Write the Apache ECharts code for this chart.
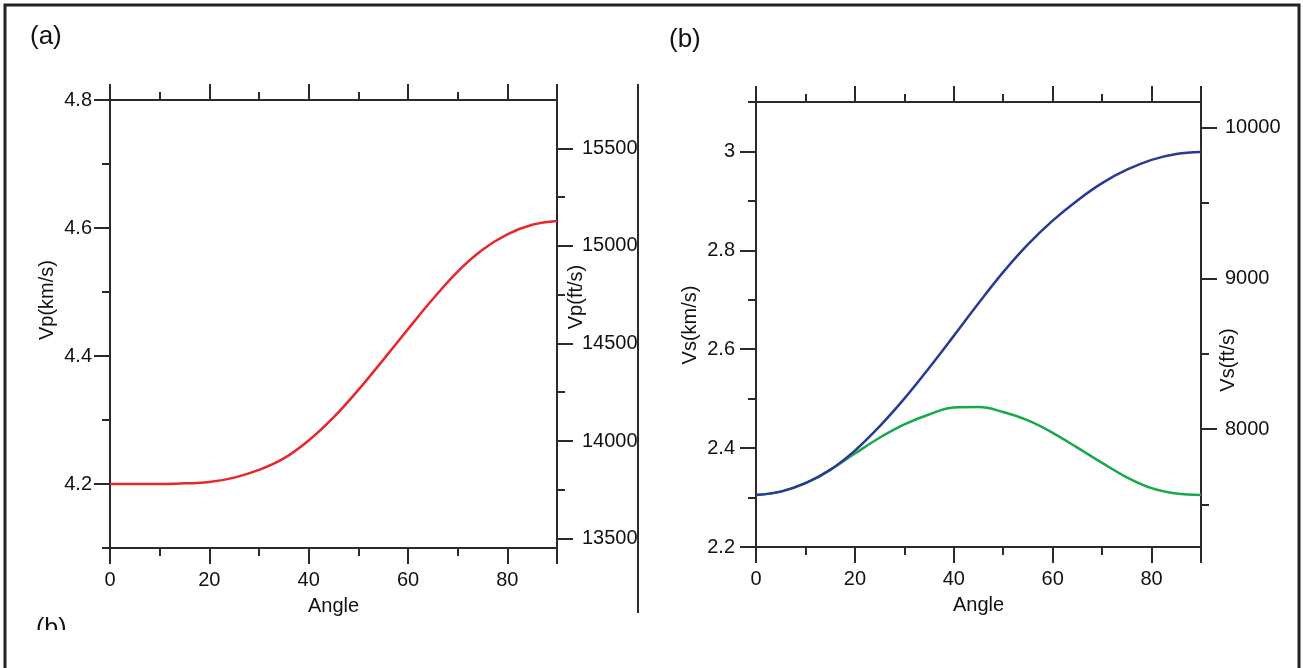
<!DOCTYPE html>
<html>
<head>
<meta charset="utf-8">
<script src="https://cdn.jsdelivr.net/npm/echarts@6/dist/echarts.min.js"></script>
<style>
html, body { margin: 0; padding: 0; background: #fff; }
#chart { width: 1303px; height: 668px; }
</style>
</head>
<body>
<div id="chart"></div>
<script>
// angle (deg) and velocities
const angles = [0, 5, 10, 15, 20, 25, 30, 35, 40, 45, 50, 55, 60, 65, 70, 75, 80, 85, 90];
const vpKm = [4.200, 4.200, 4.200, 4.201, 4.203, 4.210, 4.222, 4.240, 4.268, 4.304, 4.347, 4.394, 4.442, 4.489, 4.532, 4.566, 4.590, 4.605, 4.611];
const vsBlue = [2.305, 2.312, 2.329, 2.356, 2.395, 2.444, 2.500, 2.562, 2.627, 2.693, 2.756, 2.812, 2.860, 2.901, 2.936, 2.963, 2.983, 2.995, 2.999];
const vsGreen = [2.305, 2.312, 2.329, 2.356, 2.389, 2.421, 2.448, 2.468, 2.482, 2.483, 2.473, 2.456, 2.431, 2.401, 2.370, 2.341, 2.319, 2.308, 2.305];

// tick positions
const xMajor = [0, 20, 40, 60, 80, 90];
const xLabels = [0, 20, 40, 60, 80];
const xMinor = [10, 30, 50, 70];
const vpKmLabels = [4.2, 4.4, 4.6, 4.8];
const vpKmMinor = [4.1, 4.3, 4.5, 4.7];
const vpFtLabels = [13500, 14000, 14500, 15000, 15500];
const vpFtMinor = [13750, 14250, 14750, 15250];
const vsKmLabels = [2.2, 2.4, 2.6, 2.8, 3.0];
const vsKmMinor = [2.3, 2.5, 2.7, 2.9, 3.1];
const vsFtLabels = [8000, 9000, 10000];
const vsFtMinor = [7500, 8500, 9500];

const FT_PER_KM = 3280.84;
const INK = '#2a2a2a';
const FONT = 'Liberation Sans, Arial, sans-serif';
const FS = 20;

const chart = echarts.init(document.getElementById('chart'));

// one axis = line + ticks (+ optional labels)
function ax(gridIndex, position, min, max, ticks, len, labels, margin) {
    return {
        type: 'value', gridIndex, position, min, max,
        axisLine: { show: true, onZero: false, lineStyle: { color: INK, width: 2 } },
        axisTick: { show: true, inside: false, length: len, customValues: ticks,
            lineStyle: { color: INK, width: 2 } },
        axisLabel: labels ? {
            show: true, customValues: labels, margin: margin,
            color: '#111', fontSize: FS, fontFamily: FONT,
            formatter: v => String(v)
        } : { show: false },
        splitLine: { show: false }
    };
}

function xAxes(g) {
    const bottom = ax(g, 'bottom', 0, 90, xMajor, 16, xLabels, 22);
    bottom.name = 'Angle';
    bottom.nameLocation = 'middle';
    bottom.nameGap = 48;
    bottom.nameTextStyle = { color: '#111', fontSize: FS, fontFamily: FONT };
    return [
        bottom,
        ax(g, 'bottom', 0, 90, xMinor, 8),
        ax(g, 'top', 0, 90, xMajor, 16),
        ax(g, 'top', 0, 90, xMinor, 8)
    ];
}

const line = (name, data, color, xi, yi) => ({
    name, type: 'line', xAxisIndex: xi, yAxisIndex: yi,
    data: angles.map((a, i) => [a, data[i]]),
    smooth: 0.4, showSymbol: false, silent: true,
    lineStyle: { color, width: 2.5 }, itemStyle: { color }
});

const rotText = (text, x, y) => ({
    type: 'text', x, y, rotation: Math.PI / 2,
    style: { text, fill: '#111', fontSize: FS, fontFamily: FONT, align: 'center', verticalAlign: 'middle' }
});

chart.setOption({
    animation: false,
    backgroundColor: '#fff',
    grid: [
        { left: 110, top: 100, width: 447, height: 448 },
        { left: 756, top: 102, width: 445, height: 445 }
    ],
    xAxis: [...xAxes(0), ...xAxes(1)],
    yAxis: [
        ax(0, 'left', 4.1, 4.8, vpKmLabels, 16, vpKmLabels, 18),
        ax(0, 'left', 4.1, 4.8, vpKmMinor, 8),
        ax(0, 'right', 4.1 * FT_PER_KM, 4.8 * FT_PER_KM, vpFtLabels, 16, vpFtLabels, 25),
        ax(0, 'right', 4.1 * FT_PER_KM, 4.8 * FT_PER_KM, vpFtMinor, 8),
        ax(1, 'left', 2.2, 3.1, vsKmLabels, 16, vsKmLabels, 21),
        ax(1, 'left', 2.2, 3.1, vsKmMinor, 8),
        ax(1, 'right', 2.2 * FT_PER_KM, 3.1 * FT_PER_KM, vsFtLabels, 16, vsFtLabels, 24),
        ax(1, 'right', 2.2 * FT_PER_KM, 3.1 * FT_PER_KM, vsFtMinor, 8)
    ],
    series: [
        line('Vp', vpKm, '#e8262b', 0, 0),
        line('Vs green', vsGreen, '#17a84b', 4, 4),
        line('Vs blue', vsBlue, '#2a3896', 4, 4)
    ],
    graphic: [
        { type: 'rect', shape: { x: 5, y: 5, width: 1294, height: 700 },
          style: { fill: 'none', stroke: '#222', lineWidth: 3 }, silent: true },
        { type: 'text', x: 30, y: 24, style: { text: '(a)', fill: '#111', fontSize: 26, fontFamily: FONT } },
        { type: 'text', x: 669, y: 27, style: { text: '(b)', fill: '#111', fontSize: 26, fontFamily: FONT } },
        { type: 'line', shape: { x1: 638, y1: 84, x2: 638, y2: 613 }, style: { stroke: INK, lineWidth: 2 } },
        rotText('Vp(km/s)', 47, 300),
        rotText('Vp(ft/s)', 576, 297),
        rotText('Vs(km/s)', 690, 325),
        rotText('Vs(ft/s)', 1228, 360),
        // the cut-off "(b)" of the next figure, only its top shows
        { type: 'text', x: 36, y: 617, z: 1, style: { text: '(b)', fill: '#111', fontSize: 25, fontFamily: FONT } },
        { type: 'rect', z: 2, shape: { x: 20, y: 630, width: 200, height: 36 }, style: { fill: '#fff' } }
    ]
});
</script>
</body>
</html>
